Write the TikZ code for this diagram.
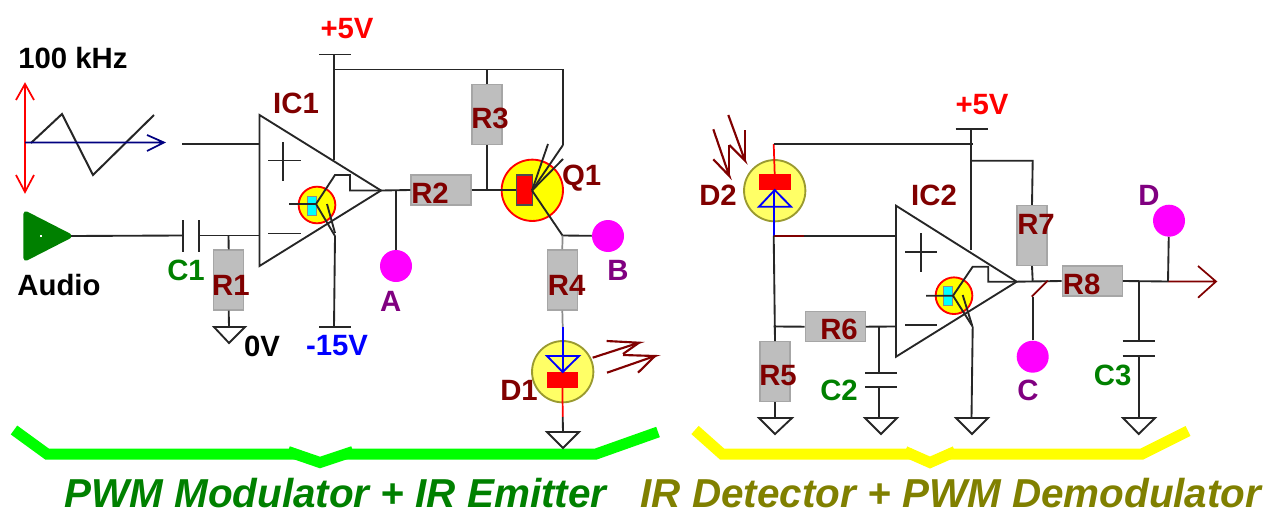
\documentclass[tikz,border=0pt]{standalone}
\usepackage{fontspec}
\setmainfont{Liberation Sans}
\usetikzlibrary{positioning}
\definecolor{darkred}{HTML}{800000}
\definecolor{darkgreen}{HTML}{008000}
\definecolor{olivetext}{HTML}{808000}
\definecolor{olivering}{HTML}{9A9A30}
\definecolor{purpletext}{HTML}{800080}
\definecolor{resgray}{HTML}{BEBEBE}
\definecolor{purered}{HTML}{FF0000}
\definecolor{pureblue}{HTML}{0000FF}
\definecolor{puregreen}{HTML}{00FF00}
\definecolor{pureyellow}{HTML}{FFFF00}
\definecolor{paleyellow}{HTML}{FFFF66}
\definecolor{purepink}{HTML}{FF00FF}
\definecolor{purecyan}{HTML}{00FFFF}
\definecolor{navyline}{HTML}{000080}

\begin{document}
\begin{tikzpicture}[
      x=0.75pt, y=-0.75pt,
      wire/.style={draw=black!85, line width=1.4pt},
      res/.style={draw=black!35, fill=resgray, line width=0.9pt, inner sep=0pt},
      resh/.style={res, minimum width=45pt, minimum height=22.5pt},
      resv/.style={res, minimum width=22.5pt, minimum height=45pt},
      pad/.style={circle, fill=purepink, inner sep=0pt, minimum size=24pt},
      lbl/.style={inner sep=0pt, font=\fontsize{22}{24}\selectfont\bfseries},
      part/.style={lbl, text=darkred},
      capl/.style={lbl, text=darkgreen},
      probe/.style={lbl, text=purpletext},
      gnd/.style={wire, line join=miter},
      ray/.style={draw=darkred, line width=1.6pt},
      thinred/.style={draw=purered, line width=1.3pt},
      thinblue/.style={draw=pureblue, line width=1.4pt},
      greywire/.style={draw=black!45, line width=1.3pt},
      brace/.style={line width=8.25pt},
      headline/.style={inner sep=0pt, font=\fontsize{30.3}{34}\selectfont\bfseries\itshape},
      bigglobe/.style={circle, line width=1.4pt, minimum size=46pt, inner sep=0pt},
      smallglobe/.style={circle, draw=purered, fill=pureyellow, line width=1.4pt, minimum size=27.5pt, inner sep=0pt},
      chip/.style={draw=black!45, fill=purecyan, line width=0.5pt, minimum width=7pt, minimum height=14pt, inner sep=0pt},
      >=stealth
      ]
  \useasboundingbox (0,0) rectangle (1273,510);

  % Green and yellow braces
  \draw[brace, draw=puregreen] (14,430) -- (47,454) -- (296,454) (345,454) -- (596,454) -- (658,432);
  \draw[brace, draw=puregreen] (288,451.5) -- (320,462.5) -- (353,451.5);
  \draw[brace, draw=pureyellow] (695,430) -- (722,454) -- (912,454) (948,454) -- (1142,454) -- (1188,431);
  \draw[brace, draw=pureyellow] (905,451.5) -- (930,462.5) -- (955,451.5);

  % Coordinates of the left half
  \coordinate (top1) at (334,54.5);
  \coordinate (rail1) at (334,69.5);
  \coordinate (railend1) at (563,69.5);
  \coordinate (amp1a) at (259.5,115);
  \coordinate (amp1b) at (381,190.5);
  \coordinate (amp1c) at (259.5,266);
  \coordinate (bot1) at (334,327);
  \coordinate (ampin1) at (334,160);
  \coordinate (plus1) at (182,144);
  \coordinate (j1) at (228.5,235.5);
  \coordinate (jA) at (396,190.5);
  \coordinate (jR3) at (487,190.5);
  \coordinate (hub1) at (532,190.5);
  \coordinate (coll1) at (563,145);
  \coordinate (emit1) at (562.5,235.5);

  \node[resv] (R1) at (228.7,280) {};
  \node[resh] (R2) at (441,190) {};
  \node[resv] (R3) at (487,114.3) {};
  \node[resv] (R4) at (562.3,280) {};
  \node[pad] (dA) at (396,266) {};
  \node[pad] (dB) at (608,236) {};

  % Q1 and D1
  \node[bigglobe, draw=purered, fill=pureyellow] (Q1) at (532.3,190.3) {};
  \node[draw=black!70, fill=purered, line width=0.8pt, minimum width=11.5pt, minimum height=22.5pt, inner sep=0pt] (Q1b) at (524.5,190) {};
  \node[bigglobe, draw=olivering, fill=paleyellow] (D1) at (562.7,371.7) {};
  \node[fill=purered, minimum width=23.5pt, minimum height=12pt, inner sep=0pt] (D1b) at (562.5,379.5) {};
  \coordinate (D1top) at (562.7,327);
  \coordinate (D1k) at (562.7,417);

  % Op amp IC1
  \draw[wire, line join=miter] (amp1a) -- (amp1b) -- (amp1c) -- cycle;
  \node[smallglobe] (T1) at (317,205) {};
  \node[chip] (T1b) at (311.5,205.5) {};
  \draw[wire] (268,160.5) -- (301,160.5) (283,142) -- (283,181);
  \draw[wire] (268,233.5) -- (301,233.5);
  \draw[wire] (289,204) -- (316,204) -- (335,175) -- (350,175) -- (350,190.5) -- (amp1b);
  \draw[wire] (316,204) -- (335,236);
  \draw[wire] (327,204) -- (335,233);

  % Connect the nodes
  \draw[wire] (319,54.5) -- (351,54.5);
  \draw[wire] (top1) -- (ampin1);
  \draw[wire] (rail1) -- (railend1) -- (coll1);
  \draw[wire] (R3.north) -- (R3.north |- rail1);
  \draw[wire] (R3.south) -- (jR3);
  \draw[wire] (amp1b) -- (R2.west);
  \draw[wire] (R2.east) -- (Q1b.west);
  \draw[wire] (jA) -- (dA);
  \draw[wire] (hub1) -- (coll1);
  \draw[wire] (hub1) -- (548,144);
  \draw[wire] (hub1) -- (563,159);
  \draw[wire] (hub1) -- (emit1) -- (dB);
  \draw[greywire] (emit1) -- (R4.north);
  \draw[greywire] (R4.south) -- (D1top);
  \draw[thinblue] (D1top) -- (562.7,372);
  \draw[thinblue, line join=miter] (547,356) -- (579,356) -- (562.7,372) -- cycle;
  \draw[thinred] (D1b.south) -- (D1k);
  \draw[wire] (D1k) -- (563,432);
  \draw[gnd] (547,432) -- (579,432) -- (563,448) -- cycle;
  \draw[ray] (592.7,357.7) -- (639,342.7) -- (606.7,341);
  \draw[ray] (639,342.7) -- (623,354);
  \draw[ray] (607,372.7) -- (655,356) -- (623,355);
  \draw[ray] (655,356) -- (638,372.7);
  \draw[wire] (335,236) -- (bot1);
  \draw[wire] (319,327) -- (351,327);
  \draw[wire] (plus1) -- (259.5,144);

  % Signal sources
  \draw[draw=black!85, line width=1.5pt] (31,143) -- (62,114) -- (93,175) -- (154,115);
  \draw[thinred] (16,100) -- (25,84) -- (34,100) (25,84) -- (25,192) (16,175) -- (25,192) -- (34,175);
  \draw[draw=navyline, line width=1.3pt] (25,142.5) -- (164,142.5) (147,135) -- (164,142.5) -- (147,151);
  \coordinate (aud) at (71,236);
  \draw[draw=darkgreen, fill=darkgreen, line width=4pt, line join=round] (26,214) -- (69,236) -- (26,258) -- cycle;
  \node[fill=white, inner sep=0pt, minimum size=2pt] (audhole) at (41,236) {};
  \draw[wire] (aud) -- (183,235.5);
  \draw[wire] (183,220) -- (183,252) (199,220) -- (199,252);
  \draw[wire] (199,235.5) -- (259.5,235.5);
  \draw[wire] (j1) -- (R1.north);
  \draw[wire] (R1.south) -- (229,327);
  \draw[gnd] (214,327) -- (245,327) -- (229,343) -- cycle;

  % Coordinates of the right half
  \coordinate (top2) at (971,129.3);
  \coordinate (amp2a) at (896,205.7);
  \coordinate (amp2b) at (1016.7,281.7);
  \coordinate (amp2c) at (896,356.7);
  \coordinate (ampin2) at (971,250);
  \coordinate (jD2) at (773.7,144);
  \coordinate (jR7) at (1032.7,160.7);
  \coordinate (jPlus) at (773.7,235.7);
  \coordinate (jOut) at (1168,281.5);
  \coordinate (jC3) at (1138.7,281.5);
  \coordinate (jC2) at (879.3,326.5);
  \coordinate (outTip) at (1216,281.5);

  \node[resv] (R5) at (775,371.7) {};
  \node[resh] (R6) at (835.2,326.7) {};
  \node[resv] (R7) at (1032,235.5) {};
  \node[resh] (R8) at (1092.3,281) {};
  \node[pad] (dC) at (1032.7,356.7) {};
  \node[pad] (dD) at (1169,220.7) {};

  % D2
  \node[bigglobe, draw=olivering, fill=paleyellow] (D2) at (774.7,190.7) {};
  \node[fill=purered, minimum width=24pt, minimum height=12pt, inner sep=0pt] (D2b) at (774.7,182.4) {};
  \draw[thinred] (jD2) -- (D2b.north);
  \draw[thinblue] (jPlus) -- (773.7,190);
  \draw[thinblue, line join=miter] (774.7,190) -- (791,206.7) -- (759,206.7) -- cycle;
  \draw[ray] (713.3,129.3) -- (729.3,176) -- (713.3,159.3);
  \draw[ray] (729.3,176) -- (729.3,145);
  \draw[ray] (728.3,115) -- (745,160.7) -- (729.3,145);
  \draw[ray] (745,160.7) -- (745,130);

  % Op amp IC2
  \draw[wire, line join=miter] (amp2a) -- (amp2b) -- (amp2c) -- cycle;
  \node[smallglobe] (T2) at (954,295.7) {};
  \node[chip] (T2b) at (948,295.8) {};
  \draw[wire] (905,251.7) -- (936.7,251.7) (920.7,233) -- (920.7,271.7);
  \draw[wire] (905,325) -- (937,325);
  \draw[wire] (926,295.7) -- (953,295.7) -- (972.7,266.7) -- (988.3,266.7) -- (988.3,281.7) -- (amp2b);
  \draw[wire] (953,295.7) -- (972.7,326.7);
  \draw[wire] (962.7,295) -- (972,325);

  % Connect the nodes
  \draw[wire] (955.7,129.3) -- (987.7,129.3);
  \draw[wire] (top2) -- (ampin2);
  \draw[wire] (jD2) -- (973,144);
  \draw[wire] (971,160.7) -- (jR7) -- (R7.north);
  \draw[draw=darkred, line width=1.3pt] (jPlus) -- (804,235.7);
  \draw[wire] (804,235.7) -- (896,235.7);
  \draw[wire] (jPlus) -- (R5.north);
  \draw[wire] (773.7,326.5) -- (R6.west);
  \draw[wire] (R6.east) -- (896,326.5);
  \draw[wire] (jC2) -- (879.3,372.7);
  \draw[wire] (865,372.7) -- (897,372.7) (865,386.7) -- (897,386.7);
  \draw[wire] (879.3,386.7) -- (879.3,418);
  \draw[gnd] (865,418) -- (897,418) -- (881,434) -- cycle;
  \draw[wire] (R5.south) -- (775,418);
  \draw[gnd] (759,418) -- (792,418) -- (775,434) -- cycle;
  \draw[wire] (972.7,326.7) -- (971.5,418);
  \draw[gnd] (956,418) -- (988,418) -- (972,434) -- cycle;
  \draw[wire] (R7.south) -- (1032.7,281.5);
  \draw[wire] (amp2b) -- (R8.west);
  \draw[draw=darkred, line width=1.3pt] (1047.7,280.7) -- (1031.7,296.7);
  \draw[wire] (1032.7,296.7) -- (dC);
  \draw[wire] (R8.east) -- (jOut);
  \draw[draw=darkred, line width=1.3pt] (jOut) -- (outTip) (1198,266) -- (outTip) -- (1198,297.7);
  \draw[wire] (jOut) -- (dD);
  \draw[wire] (jC3) -- (1138.7,341);
  \draw[wire] (1122.7,341) -- (1154.7,341) (1122.7,356) -- (1154.7,356);
  \draw[wire] (1138.7,356) -- (1138.7,418);
  \draw[gnd] (1123,418) -- (1155,418) -- (1138.7,434) -- cycle;

  % Labels
  \node[lbl, text=purered] (v1) at (347,29) {+5V};
  \node[lbl, text=black] (khz) at (73,58) {100 kHz};
  \node[lbl, text=black] (audio) at (59,285) {Audio};
  \node[lbl, text=black] (v0) at (262,346) {0V};
  \node[lbl, text=pureblue] (v15) at (337,346) {-15V};
  \node[capl] (lC1) at (186,270) {C1};
  \node[part] (lIC1) at (296,103) {IC1};
  \node[part, on grid, below right=3.75pt and 1.7pt of R1] (lR1) {R1};
  \node[part] (lR2) at (430,193) {R2};
  \node[part] (lR3) at (490,118) {R3};
  \node[part] (lR4) at (566.7,285) {R4};
  \node[part] (lQ1) at (581.7,178) {Q1};
  \node[part] (lD1) at (519,390) {D1};
  \node[probe] (lA) at (390.7,301.7) {A};
  \node[probe] (lB) at (618,270) {B};
  \node[lbl, text=purered] (v2) at (982,105) {+5V};
  \node[part] (lD2) at (718,195) {D2};
  \node[part] (lIC2) at (934,195) {IC2};
  \node[part] (lR5) at (778,376) {R5};
  \node[part] (lR6) at (839,329.3) {R6};
  \node[part] (lR7) at (1036,224) {R7};
  \node[part] (lR8) at (1081.7,284) {R8};
  \node[capl] (lC2) at (839,390) {C2};
  \node[capl] (lC3) at (1112.7,375) {C3};
  \node[probe] (lC) at (1028,390) {C};
  \node[probe] (lD) at (1149,195) {D};
  \node[headline, text=darkgreen] (tleft) at (335.5,493) {PWM Modulator + IR Emitter};
  \node[headline, text=olivetext] (tright) at (951,493) {IR Detector + PWM Demodulator};

\end{tikzpicture}
\end{document}
